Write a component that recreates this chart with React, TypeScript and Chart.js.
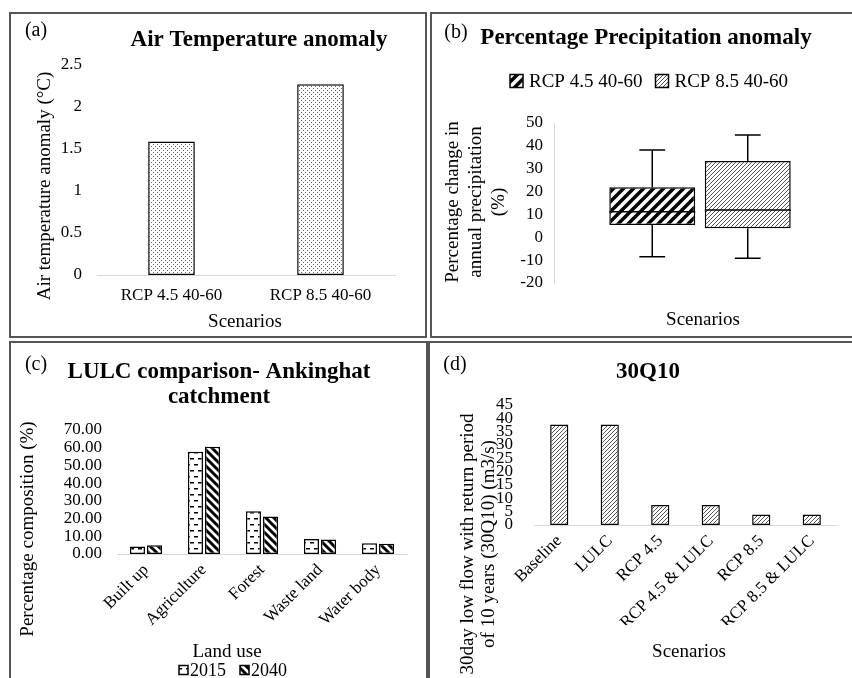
import React, { useEffect, useRef } from "react";
import { Chart, registerables } from "chart.js";
Chart.register(...registerables);

const SERIF = "'Liberation Serif', 'Times New Roman', Times, serif";
Chart.defaults.font.family = SERIF;
Chart.defaults.color = "#000";

// (a) Air temperature anomaly
const tempScenarios = ["RCP 4.5 40-60", "RCP 8.5 40-60"];
const tempAnomaly = [1.59, 2.27];
const tempTicks = [0, 0.5, 1, 1.5, 2, 2.5];

// (b) Percentage precipitation anomaly (box plot)
const precipSeries = ["RCP 4.5 40-60", "RCP 8.5 40-60"];
const precipMin = [-8.5, -9.2];
const precipQ1 = [5.4, 3.9];
const precipMedian = [11.2, 11.9];
const precipQ3 = [21.9, 33.4];
const precipMax = [38.2, 44.7];
const precipTicks = [-20, -10, 0, 10, 20, 30, 40, 50];

// (c) LULC comparison
const landUse = ["Built up", "Agriculture", "Forest", "Waste land", "Water body"];
const lulcYears = ["2015", "2040"];
const lulc2015 = [4.3, 57.7, 24.1, 8.4, 6.0];
const lulc2040 = [4.9, 60.6, 21.1, 8.2, 5.8];
const lulcTicks = [0, 10, 20, 30, 40, 50, 60, 70];

// (d) 30Q10
const flowScenarios = ["Baseline", "LULC", "RCP 4.5", "RCP 4.5 & LULC", "RCP 8.5", "RCP 8.5 & LULC"];
const flow30Q10 = [37.7, 37.7, 7.5, 7.5, 3.9, 3.9];
const flowTicks = [0, 5, 10, 15, 20, 25, 30, 35, 40, 45];

type Ctx = CanvasRenderingContext2D;

function tile(ctx: Ctx, w: number, h: number, draw: (g: Ctx) => void) {
  const c = document.createElement("canvas");
  c.width = w;
  c.height = h;
  const g = c.getContext("2d")!;
  g.fillStyle = "#fff";
  g.fillRect(0, 0, w, h);
  draw(g);
  return ctx.createPattern(c, "repeat")!;
}

function slash(ctx: Ctx, s: number, lw: number, color: string) {
  return tile(ctx, s, s, (g) => {
    g.strokeStyle = color;
    g.lineWidth = lw;
    g.beginPath();
    g.moveTo(-s, s); g.lineTo(s, -s);
    g.moveTo(0, s); g.lineTo(s, 0);
    g.moveTo(0, 2 * s); g.lineTo(2 * s, 0);
    g.stroke();
  });
}

function backslash(ctx: Ctx, s: number, lw: number, color: string) {
  return tile(ctx, s, s, (g) => {
    g.strokeStyle = color;
    g.lineWidth = lw;
    g.beginPath();
    g.moveTo(-s, 0); g.lineTo(s, 2 * s);
    g.moveTo(0, 0); g.lineTo(s, s);
    g.moveTo(0, -s); g.lineTo(2 * s, s);
    g.stroke();
  });
}

function dots(ctx: Ctx) {
  return tile(ctx, 4, 4, (g) => {
    g.fillStyle = "#666";
    g.fillRect(0, 0, 1, 1);
    g.fillRect(2, 2, 1, 1);
  });
}

function dashes(ctx: Ctx) {
  return tile(ctx, 8, 12, (g) => {
    g.fillStyle = "#000";
    g.fillRect(1, 3, 4, 1.5);
    g.fillRect(5, 9, 3, 1.5);
    g.fillRect(0, 9, 1, 1.5);
  });
}

const textPlugin = {
  id: "texts",
  afterDraw(chart: any, _a: any, opts: any) {
    const ctx = chart.ctx;
    (opts.items || []).forEach((it: any) => {
      ctx.save();
      ctx.font = it.font;
      ctx.fillStyle = "#000";
      ctx.textAlign = it.align || "center";
      ctx.textBaseline = "middle";
      ctx.translate(it.x, it.y);
      if (it.rotate) ctx.rotate((it.rotate * Math.PI) / 180);
      ctx.fillText(it.text, 0, 0);
      ctx.restore();
    });
  },
};

const legendPlugin = {
  id: "patLegend",
  afterDraw(chart: any, _a: any, opts: any) {
    if (!opts || !opts.font) return;
    const ctx = chart.ctx;
    ctx.save();
    ctx.font = opts.font;
    const items = chart.data.datasets.map((ds: any) => ({ label: ds.label, fill: ds.backgroundColor }));
    const widths = items.map((it: any) => opts.box + opts.boxGap + ctx.measureText(it.label).width);
    const total = widths.reduce((a: number, b: number) => a + b, 0) + opts.itemGap * (items.length - 1);
    let x = opts.x - total / 2;
    items.forEach((it: any, i: number) => {
      const by = opts.y - opts.box / 2;
      ctx.fillStyle = it.fill;
      ctx.fillRect(x, by, opts.box, opts.box);
      ctx.strokeStyle = "#000";
      ctx.lineWidth = 1.5;
      ctx.strokeRect(x, by, opts.box, opts.box);
      ctx.fillStyle = "#000";
      ctx.textAlign = "left";
      ctx.textBaseline = "middle";
      ctx.fillText(it.label, x + opts.box + opts.boxGap, opts.y + 1);
      x += widths[i] + opts.itemGap;
    });
    ctx.restore();
  },
};

const whiskerPlugin = {
  id: "whiskers",
  afterDatasetsDraw(chart: any, _a: any, opts: any) {
    if (!opts || !opts.min) return;
    const ctx = chart.ctx;
    const y = chart.scales.y;
    ctx.save();
    ctx.strokeStyle = "#000";
    ctx.lineWidth = 1.5;
    chart.data.datasets.forEach((_ds: any, i: number) => {
      const meta = chart.getDatasetMeta(i);
      meta.data.forEach((bar: any) => {
        const { x, width } = bar.getProps(["x", "width"], true);
        const yMin = y.getPixelForValue(opts.min[i]);
        const yQ1 = y.getPixelForValue(opts.q1[i]);
        const yMed = y.getPixelForValue(opts.median[i]);
        const yQ3 = y.getPixelForValue(opts.q3[i]);
        const yMax = y.getPixelForValue(opts.max[i]);
        const cap = width * 0.15;
        ctx.beginPath();
        ctx.moveTo(x, yQ3); ctx.lineTo(x, yMax);
        ctx.moveTo(x - cap, yMax); ctx.lineTo(x + cap, yMax);
        ctx.moveTo(x, yQ1); ctx.lineTo(x, yMin);
        ctx.moveTo(x - cap, yMin); ctx.lineTo(x + cap, yMin);
        ctx.moveTo(x - width / 2, yMed); ctx.lineTo(x + width / 2, yMed);
        ctx.stroke();
      });
    });
    ctx.restore();
  },
};

const tickFont = { family: SERIF, size: 17 };
const titleFont = `bold 23px ${SERIF}`;
const labelFont = `20px ${SERIF}`;
const axisFont = `19px ${SERIF}`;

function axisLineX(extra: any = {}) {
  return {
    grid: { display: true, drawOnChartArea: false, drawTicks: false },
    border: { display: true, color: "#d9d9d9", width: 1 },
    ticks: { font: tickFont, color: "#000", ...extra },
  };
}

function makeA(ctx: Ctx) {
  return {
    type: "bar",
    data: {
      labels: tempScenarios,
      datasets: [{
        label: "Air temperature anomaly",
        data: tempAnomaly,
        backgroundColor: dots(ctx),
        borderColor: "#000",
        borderWidth: 1.5,
        borderSkipped: false,
        barPercentage: 0.313,
        categoryPercentage: 1,
      }],
    },
    options: {
      responsive: false,
      animation: false,
      layout: { padding: { left: 38, right: 32, top: 53, bottom: 13 } },
      plugins: {
        legend: { display: false },
        tooltip: { enabled: false },
        texts: {
          items: [
            { text: "(a)", x: 27, y: 19, font: labelFont },
            { text: "Air Temperature anomaly", x: 250, y: 28, font: titleFont },
            { text: "Air temperature anomaly (°C)", x: 36, y: 174, font: axisFont, rotate: -90 },
            { text: "Scenarios", x: 236, y: 310, font: axisFont },
          ],
        },
      },
      scales: {
        x: { ...axisLineX({ padding: 10 }), afterFit: (s: any) => { s.height = 50; } },
        y: {
          min: tempTicks[0],
          max: tempTicks[tempTicks.length - 1],
          grid: { display: false, drawTicks: false },
          border: { display: false },
          ticks: {
            stepSize: tempTicks[1] - tempTicks[0],
            font: tickFont,
            color: "#000",
            padding: 15,
            autoSkip: false,
            callback: (v: any) => String(Number(v)),
          },
          afterFit: (s: any) => { s.width = 50; },
        },
      },
    },
    plugins: [textPlugin],
  };
}

function makeB(ctx: Ctx) {
  const fills = [slash(ctx, 10, 3.5, "#000"), slash(ctx, 4, 1, "#555")];
  return {
    type: "bar",
    data: {
      labels: [""],
      datasets: precipSeries.map((name, i) => ({
        label: name,
        data: [[precipQ1[i], precipQ3[i]]],
        backgroundColor: fills[i],
        borderColor: "#000",
        borderWidth: 1.5,
        borderSkipped: false,
        barPercentage: 0.9,
        categoryPercentage: 0.654,
      })),
    },
    options: {
      responsive: false,
      animation: false,
      layout: { padding: { left: 74, right: 8, top: 111, bottom: 35 } },
      plugins: {
        legend: { display: false },
        tooltip: { enabled: false },
        whiskers: { min: precipMin, q1: precipQ1, median: precipMedian, q3: precipQ3, max: precipMax },
        patLegend: { x: 219, y: 69, box: 13, boxGap: 6, itemGap: 13, font: `19px ${SERIF}` },
        texts: {
          items: [
            { text: "(b)", x: 26, y: 21, font: labelFont },
            { text: "Percentage Precipitation anomaly", x: 216, y: 26, font: titleFont },
            { text: "Percentage change in", x: 23, y: 190, font: axisFont, rotate: -90 },
            { text: "annual precipitation", x: 46, y: 190, font: axisFont, rotate: -90 },
            { text: "(%)", x: 69, y: 190, font: axisFont, rotate: -90 },
            { text: "Scenarios", x: 273, y: 308, font: axisFont },
          ],
        },
      },
      scales: {
        x: {
          grid: { display: false, drawTicks: false },
          border: { display: false },
          ticks: { display: false },
          afterFit: (s: any) => { s.height = 20; },
        },
        y: {
          min: precipTicks[0],
          max: precipTicks[precipTicks.length - 1],
          grid: { display: false, drawTicks: false },
          border: { display: true, color: "#d9d9d9", width: 1 },
          ticks: {
            stepSize: precipTicks[1] - precipTicks[0],
            font: tickFont,
            color: "#000",
            padding: 11,
            autoSkip: false,
          },
          afterFit: (s: any) => { s.width = 50; },
        },
      },
    },
    plugins: [textPlugin, whiskerPlugin, legendPlugin],
  };
}

function makeC(ctx: Ctx) {
  const fills = [dashes(ctx), backslash(ctx, 8, 3, "#000")];
  const series = [lulc2015, lulc2040];
  return {
    type: "bar",
    data: {
      labels: landUse,
      datasets: lulcYears.map((yr, i) => ({
        label: yr,
        data: series[i],
        backgroundColor: fills[i],
        borderColor: "#000",
        borderWidth: 1.5,
        borderSkipped: false,
        barPercentage: 0.88,
        categoryPercentage: 0.59,
      })),
    },
    options: {
      responsive: false,
      animation: false,
      layout: { padding: { left: 38, right: 21, top: 89, bottom: 27 } },
      plugins: {
        legend: { display: false },
        tooltip: { enabled: false },
        patLegend: { x: 224, y: 329, box: 9, boxGap: 2, itemGap: 14, font: `18px ${SERIF}` },
        texts: {
          items: [
            { text: "(c)", x: 27, y: 24, font: labelFont },
            { text: "LULC comparison- Ankinghat", x: 210, y: 31, font: titleFont },
            { text: "catchment", x: 210, y: 56, font: titleFont },
            { text: "Percentage composition (%)", x: 19, y: 188, font: axisFont, rotate: -90 },
            { text: "Land use", x: 218, y: 311, font: axisFont },
          ],
        },
      },
      scales: {
        x: {
          ...axisLineX({ padding: 6, minRotation: 45, maxRotation: 45, autoSkip: false }),
          afterFit: (s: any) => { s.height = 100; },
        },
        y: {
          min: lulcTicks[0],
          max: lulcTicks[lulcTicks.length - 1],
          grid: { display: false, drawTicks: false },
          border: { display: false },
          ticks: {
            stepSize: lulcTicks[1] - lulcTicks[0],
            font: tickFont,
            color: "#000",
            padding: 15,
            autoSkip: false,
            callback: (v: any) => Number(v).toFixed(2),
          },
          afterFit: (s: any) => { s.width = 70; },
        },
      },
    },
    plugins: [textPlugin, legendPlugin],
  };
}

function makeD(ctx: Ctx) {
  return {
    type: "bar",
    data: {
      labels: flowScenarios,
      datasets: [{
        label: "30Q10",
        data: flow30Q10,
        backgroundColor: slash(ctx, 4, 1, "#555"),
        borderColor: "#000",
        borderWidth: 1.5,
        borderSkipped: false,
        barPercentage: 0.36,
        categoryPercentage: 1,
      }],
    },
    options: {
      responsive: false,
      animation: false,
      layout: { padding: { left: 56, right: 17, top: 64, bottom: 56 } },
      plugins: {
        legend: { display: false },
        tooltip: { enabled: false },
        texts: {
          items: [
            { text: "(d)", x: 27, y: 24, font: labelFont },
            { text: "30Q10", x: 220, y: 31, font: titleFont },
            { text: "30day low flow with return period", x: 40, y: 203, font: axisFont, rotate: -90 },
            { text: "of 10 years (30Q10) (m3/s)", x: 61, y: 203, font: axisFont, rotate: -90 },
            { text: "Scenarios", x: 261, y: 311, font: axisFont },
          ],
        },
      },
      scales: {
        x: {
          ...axisLineX({ padding: 6, minRotation: 45, maxRotation: 45, autoSkip: false }),
          afterFit: (s: any) => { s.height = 100; },
        },
        y: {
          min: flowTicks[0],
          max: flowTicks[flowTicks.length - 1],
          grid: { display: false, drawTicks: false },
          border: { display: false },
          ticks: { stepSize: flowTicks[1] - flowTicks[0], font: tickFont, color: "#000", padding: 21, autoSkip: false },
          afterFit: (s: any) => { s.width = 50; },
        },
      },
    },
    plugins: [textPlugin],
  };
}

type Box = { left: number; top: number; width: number; height: number };

function ChartPanel({ box, make }: { box: Box; make: (ctx: Ctx) => any }) {
  const ref = useRef<HTMLCanvasElement>(null);
  useEffect(() => {
    const canvas = ref.current!;
    const ctx = canvas.getContext("2d")!;
    const chart = new Chart(canvas, make(ctx));
    return () => chart.destroy();
  }, []);
  return (
    <>
      <canvas
        ref={ref}
        width={box.width}
        height={box.height}
        style={{ position: "absolute", left: box.left, top: box.top, width: box.width, height: box.height }}
      />
      <div
        style={{
          position: "absolute",
          left: box.left,
          top: box.top,
          width: box.width,
          height: box.height,
          border: "2px solid #555",
          boxSizing: "border-box",
          pointerEvents: "none",
        }}
      />
    </>
  );
}

export default function App() {
  return (
    <div style={{ position: "absolute", left: 0, top: 0, width: 852, height: 678, overflow: "hidden", background: "#fff" }}>
      <ChartPanel box={{ left: 9, top: 12, width: 418, height: 326 }} make={makeA} />
      <ChartPanel box={{ left: 430, top: 12, width: 424, height: 326 }} make={makeB} />
      <ChartPanel box={{ left: 9, top: 341, width: 419, height: 340 }} make={makeC} />
      <ChartPanel box={{ left: 428, top: 341, width: 426, height: 340 }} make={makeD} />
    </div>
  );
}
